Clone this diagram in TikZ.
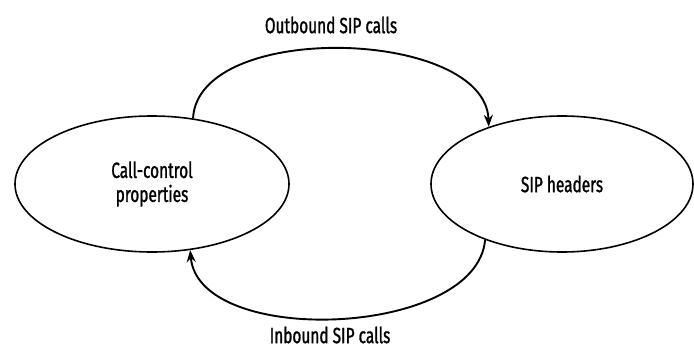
\documentclass[tikz,border=0pt]{standalone}
\usepackage{fontspec}
\setmainfont{Fira Sans}[FakeStretch=0.7, FakeBold=1.2]
\usetikzlibrary{shapes.geometric, arrows.meta}

\begin{document}
\begin{tikzpicture}[
    x=1pt, y=1pt,
    % Node styles
    state node/.style={
        ellipse,
        draw=black,
        line width=1.6pt,
        inner sep=0pt,
        minimum height=136pt,
        align=center,
        font=\fontsize{22}{24}\selectfont
    },
    flow/.style={
        draw=black,
        line width=1.9pt,
        -{Stealth[length=12pt, width=9pt]}
    },
    flow label/.style={
        font=\fontsize{22}{24}\selectfont,
        text=black
    }
]

% Canvas
\useasboundingbox (0,0) rectangle (694,349);

% States
\node[state node, minimum width=274pt] (cc) at (152,165) {Call-control\\properties};
\node[state node, minimum width=262pt] (sip) at (562,165) {SIP headers};

% Flows between the states
\draw[flow] (cc.58) to[out=87, in=92, looseness=0.85] (sip.142);
\draw[flow] (sip.216) to[out=-95, in=-85, looseness=0.85] (cc.300);

% Flow labels
\node[flow label] (out) at (331,324) {Outbound SIP calls};
\node[flow label] (in) at (330,14) {Inbound SIP calls};

\end{tikzpicture}
\end{document}
